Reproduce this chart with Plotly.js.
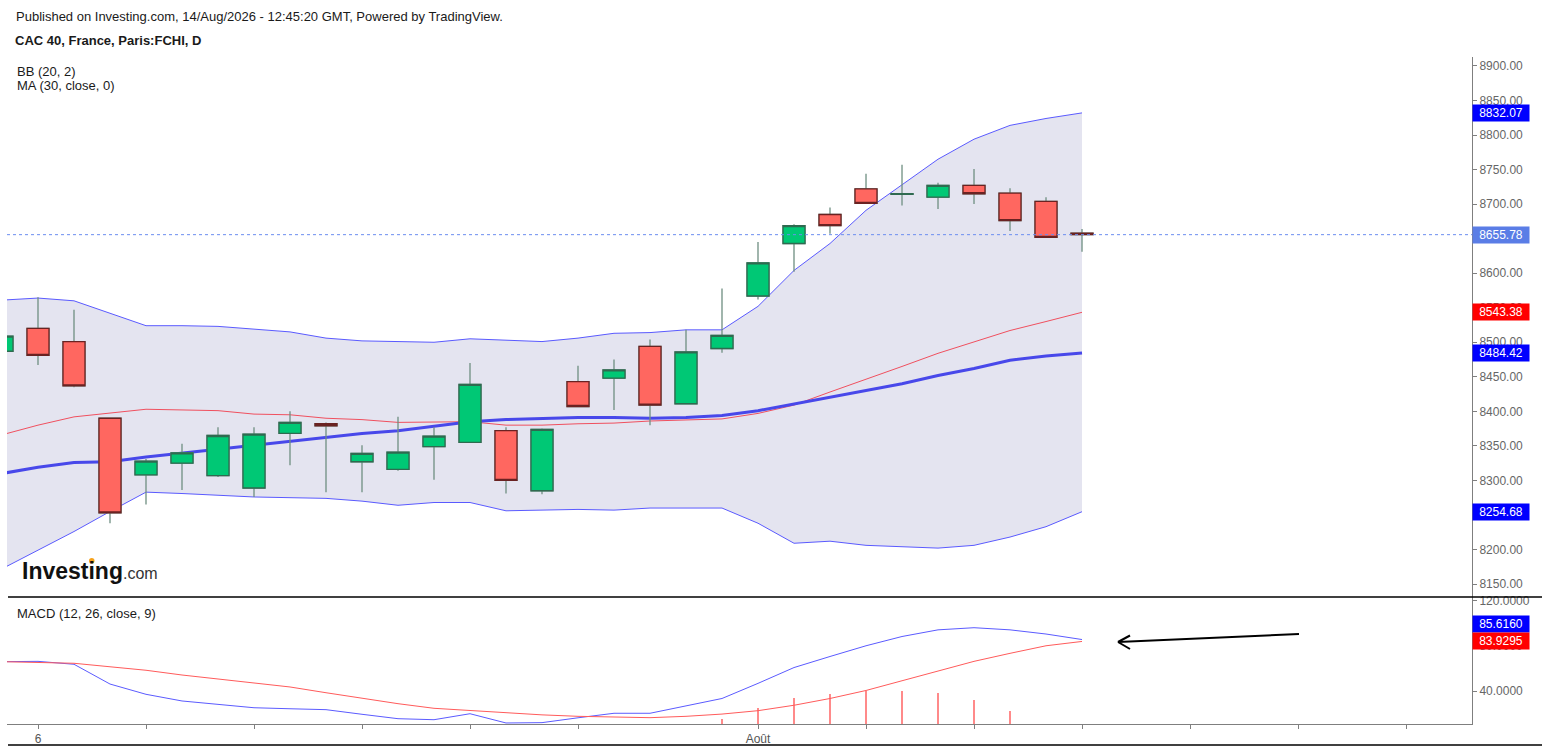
<!DOCTYPE html>
<html><head><meta charset="utf-8">
<script src="https://cdn.plot.ly/plotly-3.0.1.min.js"></script>
<style>html,body{margin:0;padding:0;background:#fff;}#chart{width:1542px;height:751px;}</style>
</head><body><div id="chart"></div>
<script>
// ---- data ----
const idx = [0,1,2,3,4,5,6,7,8,9,10,11,12,13,14,15,16,17,18,19,20,21,22,23,24,25,26,27,28,29,30];
const openP  = [8487,8520,8501,8390,8308,8325,8307,8289,8368,8382,8327,8316,8349,8355,8372,8285,8443,8448,8494,8411,8491,8567,8643,8685,8722,8714,8710,8727,8716,8704,8658];
const highP  = [8518,8565,8547,8391,8331,8353,8377,8377,8400,8384,8351,8392,8377,8470,8377,8375,8466,8475,8504,8518,8578,8645,8671,8695,8744,8757,8731,8751,8723,8710,8664];
const lowP   = [8478,8467,8435,8238,8265,8286,8305,8276,8322,8283,8283,8314,8301,8354,8281,8280,8406,8402,8380,8410,8485,8562,8602,8657,8700,8698,8693,8700,8661,8651,8631];
const closeP = [8509,8481,8437,8253,8328,8340,8365,8367,8384,8379,8339,8341,8364,8439,8300,8374,8407,8460,8409,8486,8510,8615,8669,8669,8701,8715,8727,8715,8676,8652,8655.78];
const bbUpper  = [8561,8564,8560,8542,8524,8524,8523,8519,8515,8506,8502,8501,8500,8505,8503,8501,8506,8513,8514,8518,8518,8552,8604,8643,8691,8728,8765,8794,8814,8824,8832.07];
const bbMiddle = [8366,8380,8392,8397,8403,8402,8401,8396,8395,8390,8388,8384,8384,8385,8380,8380,8382,8383,8386,8388,8389,8397,8409,8428,8446,8465,8484,8501,8517,8530,8543.38];
const bbLower  = [8172,8199,8226,8255,8283,8281,8278,8276,8275,8274,8270,8264,8268,8268,8256,8257,8258,8257,8260,8260,8260,8238,8209,8212,8206,8204,8202,8206,8218,8233,8254.68];
const ma30     = [8310,8319,8326,8327,8334,8339,8345,8351,8357,8363,8368,8372,8378,8385,8388,8390,8391,8391,8390,8391,8394,8401,8411,8420,8430,8440,8452,8462,8474,8480,8484.42];
const macdLine = [66.0,66.3,63.7,46.2,37.1,31.2,28.2,25.2,24.3,23.5,19.4,15.5,14.6,19.9,11.7,12.0,16.3,20.3,20.3,26.7,33.4,46.8,60.8,70.6,80.1,88.3,94.2,96.1,94.2,90.5,85.6160];
const signalLine = [66.0,65.4,64.6,61.5,58.4,54.2,50.6,47.4,43.6,38.5,33.6,28.8,24.7,22.6,20.5,18.9,17.6,16.7,16.4,17.6,19.6,22.6,27.4,33.4,40.5,49.1,57.5,66.3,73.4,80.1,83.9295];
const macdHist = [0.0,0.9,-0.9,-15.3,-21.3,-23.0,-22.4,-22.2,-19.3,-15.0,-14.2,-13.3,-10.1,-2.7,-8.8,-6.9,-1.3,3.6,3.9,9.1,14.8,24.7,33.8,37.6,40.0,39.8,38.0,31.8,22.0,10.4,1.6865];
const tickIdx  = [1,4,7,10,13,16,21,24,27,30,33,36,39];
const tickText = ['6','','','','','','Août','','','','','',''];
const priceTicks = [8150,8200,8250,8300,8350,8400,8450,8500,8550,8600,8650,8700,8750,8800,8850,8900];
const macdTicks = [40,80,120];

// ---- layout helpers (pixel -> paper) ----
const L = 7, R = 1472, T = 57, B = 724;
const px = v => (v - L) / (R - L);
const py = v => (B - v) / (B - T);
const FONT = 'Liberation Sans, Arial, sans-serif';
const last = a => a[a.length - 1];
const bodyHigh = openP.map((o, i) => Math.max(o, closeP[i]));
const bodyLow = openP.map((o, i) => Math.min(o, closeP[i]));

const priceRange = [8131.2, 8913.0];
const traces = [
  {x: idx, y: bbLower, type: 'scatter', mode: 'lines', line: {color: '#5a5aff', width: 1}, xaxis: 'x', yaxis: 'y', hoverinfo: 'skip'},
  {x: idx, y: bbUpper, type: 'scatter', mode: 'lines', fill: 'tonexty', fillcolor: '#e4e4f0', line: {color: '#5a5aff', width: 1}, xaxis: 'x', yaxis: 'y', hoverinfo: 'skip'},
  {x: idx, y: bbMiddle, type: 'scatter', mode: 'lines', line: {color: '#f0505f', width: 1}, xaxis: 'x', yaxis: 'y', hoverinfo: 'skip'},
  {x: idx, y: ma30, type: 'scatter', mode: 'lines', line: {color: '#4848ea', width: 3}, xaxis: 'x', yaxis: 'y', hoverinfo: 'skip'},
  {x: idx, open: openP, high: highP, low: lowP, close: closeP, type: 'candlestick', xaxis: 'x', yaxis: 'y3',
   increasing: {line: {color: '#6f8f82', width: 1.3}, fillcolor: '#00c875'},
   decreasing: {line: {color: '#6f8f82', width: 1.3}, fillcolor: '#ff6760'}, hoverinfo: 'skip'},
  {x: idx, open: openP, high: bodyHigh, low: bodyLow, close: closeP, type: 'candlestick', xaxis: 'x', yaxis: 'y3',
   increasing: {line: {color: '#2f6a50', width: 1.3}, fillcolor: '#00c875'},
   decreasing: {line: {color: '#6a2222', width: 1.3}, fillcolor: '#ff6760'}, hoverinfo: 'skip'},
  {x: idx, y: macdHist, type: 'bar', width: 0.06, marker: {color: '#ff8a8a', line: {width: 0}}, xaxis: 'x', yaxis: 'y2', hoverinfo: 'skip'},
  {x: idx, y: macdLine, type: 'scatter', mode: 'lines', line: {color: '#5b5bff', width: 1}, xaxis: 'x', yaxis: 'y2', hoverinfo: 'skip'},
  {x: idx, y: signalLine, type: 'scatter', mode: 'lines', line: {color: '#ff5b5b', width: 1}, xaxis: 'x', yaxis: 'y2', hoverinfo: 'skip'}
];

const axisCommon = {showgrid: false, zeroline: false, showline: true, linecolor: '#7f7f7f', linewidth: 1,
  ticks: 'outside', ticklen: 4, tickcolor: '#7f7f7f', tickfont: {family: FONT, size: 12, color: '#666'}, fixedrange: true};

function valueLabel(val, txt, yref, bg, yshift) {
  return {xref: 'paper', yref: yref, x: 1, y: val, xanchor: 'left', yanchor: 'middle', showarrow: false,
    text: txt, font: {family: FONT, size: 12, color: '#ffffff'}, bgcolor: bg, borderpad: 1, width: 54, align: 'center', yshift: yshift || 0};
}
function txt(x, y, t, size, color, extra) {
  return Object.assign({xref: 'paper', yref: 'paper', x: px(x), y: py(y), xanchor: 'left', yanchor: 'middle', showarrow: false,
    text: t, font: {family: FONT, size: size, color: color}}, extra || {});
}

const annotations = [
  txt(14, 17, 'Published on Investing.com, 14/Aug/2026 - 12:45:20 GMT, Powered by TradingView.', 13, '#1a1a1a'),
  txt(13, 40, '<b>CAC 40, France, Paris:FCHI, D</b>', 13, '#1a1a1a'),
  txt(15, 72, 'BB (20, 2)', 13, '#1a1a1a'),
  txt(15, 86, 'MA (30, close, 0)', 13, '#1a1a1a'),
  txt(15, 613, 'MACD (12, 26, close, 9)', 13, '#1a1a1a'),
  txt(20, 571, '<b>Investing</b><span style="font-size:16px;color:#333">.com</span>', 23, '#111'),
  valueLabel(last(bbUpper), last(bbUpper).toFixed(2), 'y', '#0000ff'),
  valueLabel(last(closeP), last(closeP).toFixed(2), 'y', '#5a7de6'),
  valueLabel(last(bbMiddle), last(bbMiddle).toFixed(2), 'y', '#ff0000'),
  valueLabel(last(ma30), last(ma30).toFixed(2), 'y', '#0000ff'),
  valueLabel(last(bbLower), last(bbLower).toFixed(2), 'y', '#0000ff'),
  valueLabel(last(macdLine), last(macdLine).toFixed(4), 'y2', '#0000ff', 16),
  valueLabel(last(signalLine), last(signalLine).toFixed(4), 'y2', '#ff0000')
];

const shapes = [
  {type: 'line', xref: 'paper', yref: 'y', x0: 0, x1: 1, y0: last(closeP), y1: last(closeP), line: {color: '#6b8ef0', width: 1, dash: 'dot'}},
  {type: 'line', xref: 'paper', yref: 'paper', x0: px(8), x1: px(1542), y0: py(597), y1: py(597), line: {color: '#000', width: 1.5}},
  {type: 'line', xref: 'paper', yref: 'paper', x0: px(8), x1: px(1542), y0: py(745), y1: py(745), line: {color: '#000', width: 1.5}},
  {type: 'line', xref: 'paper', yref: 'paper', x0: px(1299), x1: px(1118), y0: py(634), y1: py(642), line: {color: '#000', width: 2}},
  {type: 'line', xref: 'paper', yref: 'paper', x0: px(1118), x1: px(1130), y0: py(642), y1: py(635.5), line: {color: '#000', width: 2}},
  {type: 'line', xref: 'paper', yref: 'paper', x0: px(1118), x1: px(1130), y0: py(642), y1: py(649), line: {color: '#000', width: 2}},
  {type: 'circle', xref: 'paper', yref: 'paper', x0: px(89), x1: px(94.5), y0: py(558), y1: py(563.5), fillcolor: '#f7a21b', line: {width: 0}}
];

const layout = {
  width: 1542, height: 751, margin: {l: L, r: 1542 - R, t: T, b: 751 - B, pad: 0},
  paper_bgcolor: '#fff', plot_bgcolor: '#fff', showlegend: false, hovermode: false,
  boxgap: 0.389, boxgroupgap: 0, bargap: 0,
  font: {family: FONT, size: 12, color: '#666'},
  xaxis: Object.assign({}, axisCommon, {anchor: 'y2', range: [0.139, 40.833], tickvals: tickIdx, ticktext: tickText,
    rangeslider: {visible: false}, tickfont: {family: FONT, size: 12, color: '#555'}}),
  yaxis: Object.assign({}, axisCommon, {domain: [127 / 667, 1], side: 'right', anchor: 'x', range: priceRange,
    tickvals: priceTicks, tickformat: '.2f'}),
  yaxis2: Object.assign({}, axisCommon, {domain: [0, 127 / 667], side: 'right', anchor: 'x', range: [10.8, 123.3],
    tickvals: macdTicks, tickformat: '.4f'}),
  yaxis3: {overlaying: 'y', range: priceRange, visible: false, showgrid: false, zeroline: false, fixedrange: true},
  annotations: annotations, shapes: shapes
};

Plotly.newPlot('chart', traces, layout, {displayModeBar: false, staticPlot: true});
</script></body></html>
